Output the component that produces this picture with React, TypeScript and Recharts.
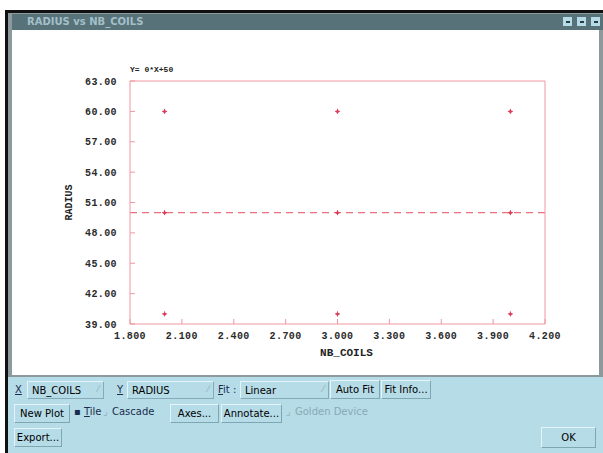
import React from "react";
import {
  ReferenceLine,
  Scatter,
  ScatterChart,
  XAxis,
  YAxis,
} from "recharts";

// measured points (NB_COILS, RADIUS)
const nbCoils = [2, 3, 4, 2, 3, 4, 2, 3, 4];
const radius = [60, 60, 60, 50, 50, 50, 40, 40, 40];
const xTicks = [1.8, 2.1, 2.4, 2.7, 3.0, 3.3, 3.6, 3.9, 4.2];
const yTicks = [39, 42, 45, 48, 51, 54, 57, 60, 63];
const fitSlope = 0;
const fitIntercept = 50;

const PINK = "#f0979f";
const RED = "#dc3c58";

const points = nbCoils.map((x, i) => ({ x, y: radius[i] }));

const tickStyle = {
  fill: "#2a2a2a",
  fontSize: 10,
  fontFamily: "Liberation Mono",
  fontWeight: "bold",
  letterSpacing: 0.4,
};

function Mark(props: any) {
  const { cx, cy } = props;
  return (
    <g>
      <line x1={cx - 2.5} x2={cx + 2.5} y1={cy} y2={cy} stroke={RED} strokeWidth={1} />
      <line x1={cx} x2={cx} y1={cy - 2.5} y2={cy + 2.5} stroke={RED} strokeWidth={1} />
      <circle cx={cx} cy={cy} r={1.5} fill={RED} />
    </g>
  );
}

const NoTick = () => <g />;

function Btn(props: { left: number; top: number; width: number; children: React.ReactNode; height?: number }) {
  return (
    <div
      style={{
        position: "absolute",
        left: props.left,
        top: props.top,
        width: props.width,
        height: props.height ?? 19,
        boxSizing: "border-box",
        borderTop: "1px solid #e4f4f9",
        borderLeft: "1px solid #e4f4f9",
        borderBottom: "1px solid #7fa6b3",
        borderRight: "1px solid #7fa6b3",
        display: "flex",
        alignItems: "center",
        justifyContent: "center",
        whiteSpace: "nowrap",
      }}
    >
      {props.children}
    </div>
  );
}

function Drop(props: { left: number; top: number; width: number; children: React.ReactNode }) {
  return (
    <div
      style={{
        position: "absolute",
        left: props.left,
        top: props.top,
        width: props.width,
        height: 18,
        boxSizing: "border-box",
        borderTop: "1px solid #e4f4f9",
        borderLeft: "1px solid #e4f4f9",
        borderBottom: "1px solid #86abb8",
        borderRight: "1px solid #86abb8",
        paddingLeft: 4,
        display: "flex",
        alignItems: "center",
      }}
    >
      {props.children}
      <span style={{ position: "absolute", right: 4, top: 2, color: "#8fb0bc", fontSize: 9 }}>⁄</span>
    </div>
  );
}

function Txt(props: { left: number; top: number; children: React.ReactNode; color?: string }) {
  return (
    <div style={{ position: "absolute", left: props.left, top: props.top, color: props.color ?? "#1c2c4e", whiteSpace: "nowrap" }}>
      {props.children}
    </div>
  );
}

export default function App() {
  return (
    <div
      style={{
        position: "fixed",
        left: 0,
        top: 0,
        width: 603,
        height: 453,
        background: "#ffffff",
        overflow: "hidden",
        fontFamily: "DejaVu Sans",
        fontSize: 10,
      }}
    >
      {/* window frame */}
      <div style={{ position: "absolute", left: 5, top: 10, width: 598, height: 443, background: "#111" }} />
      <div style={{ position: "absolute", left: 8, top: 13, width: 595, height: 440, background: "#8c9a9e" }} />
      <div style={{ position: "absolute", left: 12, top: 14, width: 591, height: 16, background: "#58727a" }} />
      <div
        style={{
          position: "absolute",
          left: 27,
          top: 15,
          color: "#a3c0c9",
          fontWeight: "bold",
          fontSize: 10,
          lineHeight: "14px",
        }}
      >
        RADIUS vs NB_COILS
      </div>
      {[563, 577, 591].map((l) => (
        <div
          key={l}
          style={{
            position: "absolute",
            left: l,
            top: 17,
            width: 9,
            height: 9,
            background: "#b5dbe6",
            display: "flex",
            alignItems: "center",
            justifyContent: "center",
          }}
        >
          <div style={{ width: 4, height: 2, background: "#2a3a4a" }} />
        </div>
      ))}
      <div style={{ position: "absolute", left: 12, top: 30, width: 587, height: 345, background: "#ffffff" }} />
      <div style={{ position: "absolute", left: 8, top: 377, width: 595, height: 76, background: "#b6dce7" }} />

      {/* chart */}
      <div style={{ position: "absolute", left: 0, top: 0 }}>
        <ScatterChart width={603} height={375} margin={{ top: 61, right: 38, bottom: 11, left: 60 }}>
          <XAxis
            dataKey="x"
            type="number"
            domain={[1.8, 4.2]}
            ticks={xTicks}
            tickFormatter={(v: number) => v.toFixed(3)}
            height={40}
            stroke={PINK}
            tickSize={-5}
            tickMargin={13}
            tick={tickStyle}
            allowDataOverflow
            label={{
              value: "NB_COILS",
              position: "insideBottom",
              offset: 8,
              dx: 9,
              style: { fill: "#222", fontSize: 11, fontFamily: "Liberation Mono", fontWeight: "bold" },
            }}
          />
          <XAxis
            xAxisId="top"
            orientation="top"
            dataKey="x"
            type="number"
            domain={[1.8, 4.2]}
            ticks={xTicks}
            height={20}
            stroke={PINK}
            tickSize={-5}
            tick={NoTick}
            label={{
              value: `Y= ${fitSlope}*X+${fitIntercept}`,
              position: "insideLeft",
              offset: 0,
              dy: -2,
              style: { fill: "#222", fontSize: 8, fontFamily: "Liberation Mono", fontWeight: "bold" },
            }}
          />
          <YAxis
            dataKey="y"
            type="number"
            domain={[39, 63]}
            ticks={yTicks}
            tickFormatter={(v: number) => v.toFixed(2)}
            width={70}
            stroke={PINK}
            tickSize={-5}
            tickMargin={18}
            tick={tickStyle}
            allowDataOverflow
            label={{
              value: "RADIUS",
              angle: -90,
              position: "insideLeft",
              offset: 8,
              style: { textAnchor: "middle", fill: "#222", fontSize: 10, fontFamily: "Liberation Mono", fontWeight: "bold" },
            }}
          />
          <YAxis
            yAxisId="right"
            orientation="right"
            type="number"
            domain={[39, 63]}
            ticks={yTicks}
            width={20}
            stroke={PINK}
            tickSize={-5}
            tick={NoTick}
          />
          <ReferenceLine y={fitIntercept} stroke="#e8707e" strokeWidth={1.2} strokeDasharray="7 5" />
          <Scatter data={points} shape={<Mark />} isAnimationActive={false} />
        </ScatterChart>
      </div>

      {/* control panel */}
      <Txt left={15} top={384}><u>X</u></Txt>
      <Drop left={27} top={381} width={77}>NB_COILS</Drop>
      <Txt left={117} top={384}><u>Y</u></Txt>
      <Drop left={127} top={381} width={87}>RADIUS</Drop>
      <Txt left={218} top={384}><u>F</u>it :</Txt>
      <Drop left={240} top={381} width={89}>Linear</Drop>
      <Btn left={330} top={380} width={50}>Auto Fit</Btn>
      <Btn left={381} top={380} width={50}>Fit Info...</Btn>

      <Btn left={14} top={404} width={56}>New Plot</Btn>
      <Txt left={74} top={406}>▪</Txt>
      <Txt left={84} top={406}><u>T</u>ile</Txt>
      <Txt left={103} top={406} color="#8fb0bc">⌟</Txt>
      <Txt left={112} top={406}>Cascade</Txt>
      <Btn left={170} top={404} width={49}>Axes...</Btn>
      <Btn left={221} top={404} width={61}>Annotate...</Btn>
      <Txt left={286} top={406} color="#8fb0bc">⌟</Txt>
      <Txt left={295} top={406} color="#8aa9b6">Golden Device</Txt>

      <Btn left={14} top={428} width={48}>Export...</Btn>
      <Btn left={541} top={427} width={55} height={21}>OK</Btn>
    </div>
  );
}
